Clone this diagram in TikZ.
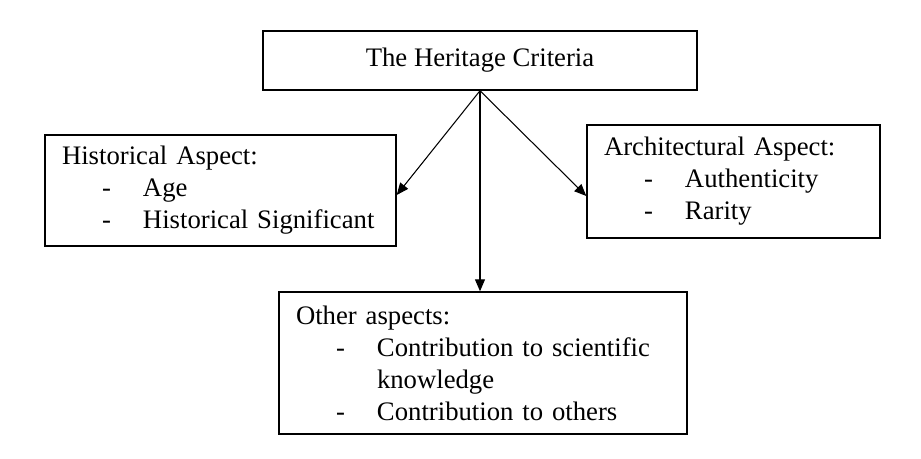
\documentclass[tikz,border=0pt]{standalone}
\usepackage{fontspec}
\setmainfont{Liberation Serif}
\usetikzlibrary{arrows.meta,positioning}
\newcommand{\itm}[1]{\hspace*{0.8cm}\makebox[0.82cm][l]{-}#1}
\tikzset{
    box/.style={draw, line width=0.85pt, inner sep=0pt, font=\fontsize{15.2}{18.2}\selectfont},
    listbox/.style={box, align=left, inner xsep=0.34cm},
    edge/.style={draw, line width=0.6pt, -{Triangle[length=0.24cm, width=0.2cm]}}
}

\begin{document}
\begin{tikzpicture}[x=0.02cm, y=-0.02cm]
    \useasboundingbox (0,0) rectangle (921,458);
    % Nodes
    \node[box, minimum width=8.68cm, minimum height=1.18cm] (crit) at (480,60.5) {The Heritage Criteria};
    \node[listbox, text width=6.34cm, minimum height=2.22cm] (hist) at (220.5,190.5)
        {Historical Aspect:\\ \itm{Age}\\ \itm{Historical Significant}};
    \node[listbox, text width=5.18cm, minimum height=2.26cm] (arch) at (733.5,181.5)
        {Architectural Aspect:\\ \itm{Authenticity}\\ \itm{Rarity}};
    \node[listbox, text width=7.48cm, minimum height=2.84cm] (other) at (483,363)
        {Other aspects:\\ \itm{Contribution to scientific}\\ \hspace*{1.62cm}knowledge\\ \itm{Contribution to others}};

    % edges
    \draw[edge] (crit.south) -- ([yshift=-0.09cm]hist.east);
    \draw[edge] (crit.south) -- ([yshift=-0.29cm]arch.west);
    \draw[edge] (crit.south) -- (crit.south |- other.north);
\end{tikzpicture}
\end{document}
